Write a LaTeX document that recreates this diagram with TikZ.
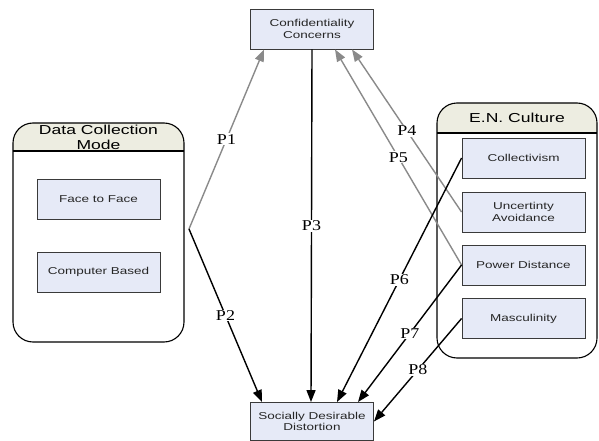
\documentclass[tikz,border=0pt]{standalone}
\usepackage{fontspec}
\setmainfont{Liberation Serif}
\newfontfamily\arialf{Liberation Sans}
\usetikzlibrary{arrows.meta}
\newcommand{\hs}[1]{\scalebox{1.35}[1]{#1}}
\newcommand{\ls}[1]{\scalebox{1.2}[1]{#1}}
\definecolor{boxfill}{HTML}{E6EAF7}
\definecolor{boxline}{HTML}{3A3A3A}
\definecolor{headfill}{HTML}{EDEDE1}
\definecolor{grayarrow}{HTML}{8A8A8A}
\tikzset{
  box/.style={draw=boxline, fill=boxfill, line width=0.9pt, minimum width=123pt, minimum height=40pt, inner sep=0pt, align=center, font=\arialf\fontsize{10}{11.5}\selectfont, text=black!85},
  title/.style={align=center, inner sep=0pt, font=\arialf\fontsize{13}{15}\selectfont},
  garrow/.style={draw=grayarrow, line width=1.4pt, -{Triangle[length=12pt,width=9pt]}},
  barrow/.style={draw=black, line width=1.4pt, -{Triangle[length=12pt,width=9pt]}},
  plabel/.style={fill=white, inner sep=1pt, font=\fontsize{15}{17}\selectfont, pos=0.5}
}
\begin{document}
\begin{tikzpicture}[x=1pt,y=-1pt]
\useasboundingbox (0,0) rectangle (599,441);
% containers
\begin{scope}
\clip[rounded corners=20pt] (13,123) rectangle (184,342);
\fill[headfill] (13,123) rectangle (184,151);
\end{scope}
\draw[line width=1.1pt, rounded corners=20pt] (13,123) rectangle (184,342);
\draw[line width=1.1pt] (13,151) -- (184,151);
\node[title] (dcmtitle) at (98.5,137) {\hs{Data Collection}\\\hs{Mode}};

\begin{scope}
\clip[rounded corners=20pt] (437,103) rectangle (597,358);
\fill[headfill] (437,103) rectangle (597,133);
\end{scope}
\draw[line width=1.1pt, rounded corners=20pt] (437,103) rectangle (597,358);
\draw[line width=1.1pt] (437,133) -- (597,133);
\node[title] (ectitle) at (517,118) {\hs{E.N. Culture}};

% boxes
\node[box] (conf) at (312,29) {\hs{Confidentiality}\\\hs{Concerns}};
\node[box, minimum height=38pt] (sdd) at (312,421.5) {\hs{Socially Desirable}\\\hs{Distortion}};
\node[box] (face) at (98.5,199) {\hs{Face to Face}};
\node[box] (comp) at (98.5,272) {\hs{Computer Based}};
\node[box] (coll) at (523.5,158) {\hs{Collectivism}};
\node[box] (unc) at (523.5,212) {\hs{Uncertinty}\\\hs{Avoidance}};
\node[box] (pd) at (523.5,265) {\hs{Power Distance}};
\node[box] (masc) at (523.5,318.5) {\hs{Masculinity}};
\coordinate (dcm) at (189,229);

% arrows
\draw[garrow] (dcm) -- node[plabel] {\ls{P1}} ([xshift=-48pt]conf.south);
\draw[barrow] (dcm) -- node[plabel] {\ls{P2}} ([xshift=-50pt]sdd.north);
\draw[barrow] (conf.south) -- node[plabel] {\ls{P3}} ([xshift=-1pt]sdd.north);
\draw[garrow] (unc.west) -- node[plabel] {\ls{P4}} ([xshift=40pt]conf.south);
\draw[garrow] (pd.west) -- node[plabel] {\ls{P5}} ([xshift=23pt]conf.south);
\draw[barrow] (coll.west) -- node[plabel] {\ls{P6}} ([xshift=25pt]sdd.north);
\draw[barrow] (pd.west) -- node[plabel] {\ls{P7}} ([xshift=46pt]sdd.north);
\draw[barrow] (masc.west) -- node[plabel] {\ls{P8}} (sdd.east);
\end{tikzpicture}
\end{document}
